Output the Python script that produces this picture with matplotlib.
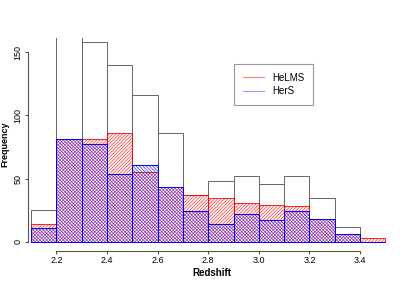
import matplotlib.pyplot as plt
from matplotlib.lines import Line2D

plt.rcParams['font.family'] = ['Liberation Sans', 'DejaVu Sans']
plt.rcParams['hatch.linewidth'] = 0.4

# bin left edges (width 0.1)
bins = [2.1, 2.2, 2.3, 2.4, 2.5, 2.6, 2.7, 2.8, 2.9, 3.0, 3.1, 3.2, 3.3, 3.4]
total = [25, 180, 158, 140, 116, 86, 37, 48, 52, 46, 52, 35, 12, 0]
helms = [14, 81, 81, 86, 55, 43, 37, 35, 31, 29, 28, 18, 6, 3]
hers = [11, 81, 77, 54, 61, 43, 24, 14, 22, 17, 24, 18, 6, 0]

fig = plt.figure(figsize=(4.15, 2.88), dpi=100)
ax = fig.add_axes([28/415, 1-250.7/288, 367/415, 212.7/288])

ax.bar(bins, total, width=0.1, align='edge', facecolor='none',
       edgecolor='#666666', linewidth=0.7)
ax.bar(bins, helms, width=0.1, align='edge', facecolor='none',
       edgecolor='red', hatch='/' * 10, linewidth=0.6)
ax.bar(bins, hers, width=0.1, align='edge', facecolor='none',
       edgecolor='blue', hatch='\\' * 10, linewidth=0.7)

ax.set_xlim(2.088, 3.538)
ax.set_ylim(-7.1, 161.3)

for s in ['top', 'right']:
    ax.spines[s].set_visible(False)
ax.spines['left'].set_bounds(0, 150)
ax.spines['bottom'].set_bounds(2.2, 3.4)
for s in ['left', 'bottom']:
    ax.spines[s].set_color('#555555')
    ax.spines[s].set_linewidth(0.8)

ax.set_xticks([2.2, 2.4, 2.6, 2.8, 3.0, 3.2, 3.4])
ax.set_xticklabels(['2.2', '2.4', '2.6', '2.8', '3.0', '3.2', '3.4'])
ax.set_yticks([0, 50, 100, 150])
ax.tick_params(axis='both', length=2.5, width=0.8, color='#555555',
               labelsize=6.5, pad=1.5)
plt.setp(ax.get_yticklabels(), rotation=90, va='center')

ax.set_xlabel('Redshift', fontsize=7, fontweight='bold', labelpad=2)
ax.set_ylabel('Frequency', fontsize=6.5, fontweight='bold', labelpad=3)

handles = [Line2D([], [], color='red', alpha=0.5, linewidth=0.8),
           Line2D([], [], color='blue', alpha=0.4, linewidth=0.8)]
leg = ax.legend(handles, ['HeLMS', 'HerS'], loc='upper left',
                bbox_to_anchor=(234/415, 1-64/288), bbox_transform=fig.transFigure,
                fontsize=7, fancybox=False, framealpha=1, edgecolor='#999999',
                handlelength=2.2, borderpad=0.9, labelspacing=0.35,
                handletextpad=0.8, borderaxespad=0)
leg.get_frame().set_linewidth(0.8)

fig.savefig('out.png', dpi=100)
